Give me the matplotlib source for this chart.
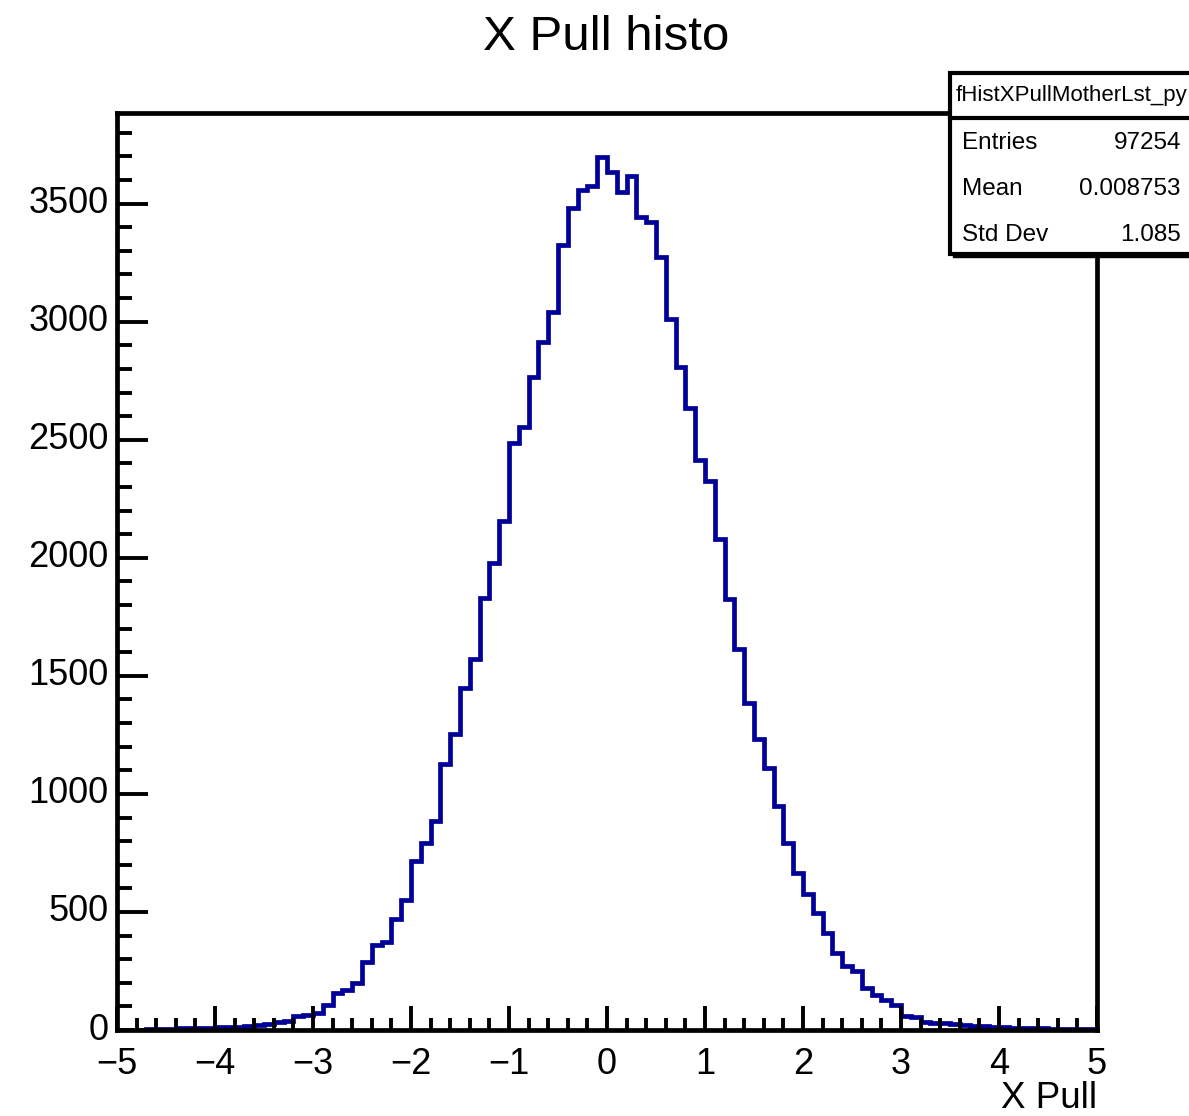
import numpy as np
import matplotlib.pyplot as plt
from matplotlib.patches import Rectangle
from matplotlib.ticker import MultipleLocator

plt.rcParams['font.family'] = ['Liberation Sans', 'DejaVu Sans']

# bin contents of the X pull histogram, 100 bins from -5 to 5
x_lo, x_hi, n_bins = -5.0, 5.0, 100
counts = [
    1, 2, 2, 3, 4, 5, 7, 8, 9, 10,
    11, 12, 14, 18, 22, 26, 35, 40, 58, 63,
    72, 108, 155, 168, 197, 286, 358, 372, 470, 550,
    716, 792, 886, 1128, 1255, 1450, 1572, 1830, 1978, 2155,
    2487, 2555, 2765, 2915, 3040, 3324, 3481, 3557, 3574, 3699,
    3634, 3549, 3616, 3443, 3424, 3272, 3010, 2809, 2633, 2415,
    2324, 2078, 1826, 1612, 1386, 1233, 1110, 947, 790, 667,
    575, 494, 409, 326, 273, 250, 180, 150, 125, 106,
    59, 57, 33, 30, 30, 24, 20, 17, 16, 13,
    12, 10, 9, 8, 7, 6, 5, 5, 4, 3,
]
stats_labels = ['Entries', 'Mean', 'Std Dev']
stats_values = ['97254', '0.008753', '1.085']
hist_name = 'fHistXPullMotherLst_py'

W, H = 1189, 1116
fig = plt.figure(figsize=(W / 100, H / 100), dpi=100)
ax = fig.add_axes([117 / W, 1 - 1030 / H, (1097 - 117) / W, (1030 - 113) / H])

edges = np.linspace(x_lo, x_hi, n_bins + 1)
ax.stairs(counts, edges, color='#000099', linewidth=3.4)

ax.set_xlim(x_lo, x_hi)
ax.set_ylim(0, 1.05 * max(counts))

for s in ax.spines.values():
    s.set_linewidth(3.4)

ax.xaxis.set_major_locator(MultipleLocator(1))
ax.xaxis.set_minor_locator(MultipleLocator(0.2))
ax.yaxis.set_major_locator(MultipleLocator(500))
ax.yaxis.set_minor_locator(MultipleLocator(100))
ax.tick_params(axis='x', which='major', direction='in', length=17, width=2.8, labelsize=26, pad=12)
ax.tick_params(axis='x', which='minor', direction='in', length=8.5, width=2.8)
ax.tick_params(axis='y', which='major', direction='in', length=22, width=2.8, labelsize=26, pad=6)
ax.tick_params(axis='y', which='minor', direction='in', length=11, width=2.8)
for lab in ax.get_yticklabels():
    lab.set_verticalalignment('center')

fig.text(606 / W, 1 - 38 / H, 'X Pull histo', ha='center', va='center', fontsize=35.5)
fig.text(1097 / W, 1 - 1098 / H, 'X Pull', ha='right', va='center', fontsize=26.5)

# stats box
def fx(px):
    return px / W

def fy(py):
    return 1 - py / H

bx0, bx1, by0, by1 = 950, 1192, 73, 254
fig.patches.append(Rectangle((fx(bx0 + 3), fy(by1 + 3)), fx(bx1 - bx0), (by1 - by0) / H,
                             transform=fig.transFigure, facecolor='black', edgecolor='black', zorder=5))
fig.patches.append(Rectangle((fx(bx0), fy(by1)), fx(bx1 - bx0), (by1 - by0) / H,
                             transform=fig.transFigure, facecolor='white', edgecolor='black',
                             linewidth=3.0, zorder=6))
fig.add_artist(plt.Line2D([fx(bx0), fx(bx1)], [fy(118), fy(118)], transform=fig.transFigure,
                          color='black', linewidth=3.0, zorder=7))
fig.text(fx(1071), fy(96), hist_name, ha='center', va='center', fontsize=16, zorder=8)
for i, (lab, val) in enumerate(zip(stats_labels, stats_values)):
    yy = fy(143 + 46 * i)
    fig.text(fx(962), yy, lab, ha='left', va='center', fontsize=17.5, zorder=8)
    fig.text(fx(1181), yy, val, ha='right', va='center', fontsize=17.5, zorder=8)

fig.savefig('out.png', dpi=100)
